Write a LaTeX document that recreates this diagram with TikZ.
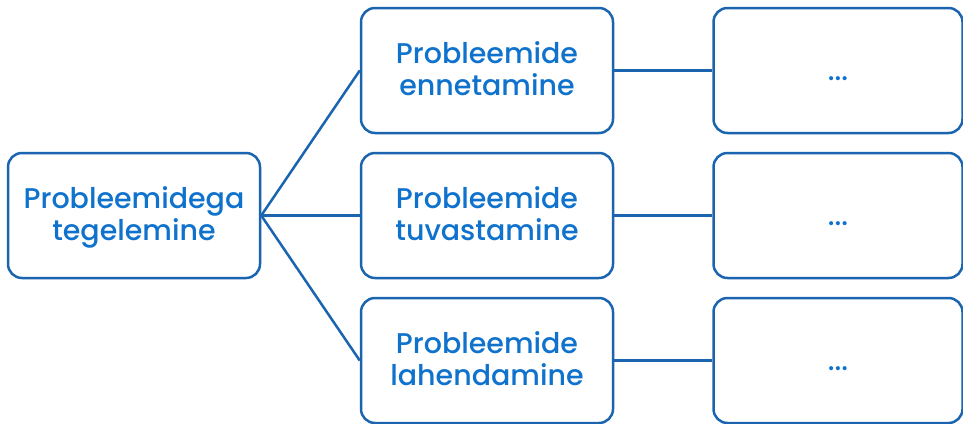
\documentclass[tikz,border=0pt]{standalone}
\usepackage{fontspec}
\setmainfont{Poppins}[UprightFont=* Medium]
\definecolor{boxline}{HTML}{1A64B0}
\definecolor{txt}{HTML}{0F72CC}
\begin{document}
\begin{tikzpicture}[x=1pt,y=-1pt,
  box/.style={draw=boxline,line width=2.5pt,rounded corners=14pt,fill=white,
    minimum width=#1,minimum height=125pt,inner sep=0pt,align=center,
    text height=56pt,text depth=6pt,
    text=txt,font=\fontsize{28.5}{32}\selectfont},
  box/.default=252pt,
  dots/.style={text=txt,anchor=base,inner sep=0pt,font=\fontsize{28}{30}\selectfont},
  conn/.style={draw=boxline,line width=2.5pt}]
\useasboundingbox (0,0) rectangle (963,423);
\node[box] (root) at (134,215.5) {Probleemidega\\tegelemine};
\node[box] (a) at (487,70.5) {Probleemide\\ennetamine};
\node[box] (b) at (487,215.5) {Probleemide\\tuvastamine};
\node[box] (c) at (487,360.5) {Probleemide\\lahendamine};
\node[box=249pt] (ra) at (838,70.5) {};
\node[box=249pt] (rb) at (838,215.5) {};
\node[box=249pt] (rc) at (838,360.5) {};
\node[dots] (da) at (838,80) {...};
\node[dots] (db) at (838,225) {...};
\node[dots] (dc) at (838,370) {...};
\draw[conn] (root.east) -- (a.west);
\draw[conn] (root.east) -- (b.west);
\draw[conn] (root.east) -- (c.west);
\draw[conn] (a.east) -- (ra.west);
\draw[conn] (b.east) -- (rb.west);
\draw[conn] (c.east) -- (rc.west);
\end{tikzpicture}
\end{document}
